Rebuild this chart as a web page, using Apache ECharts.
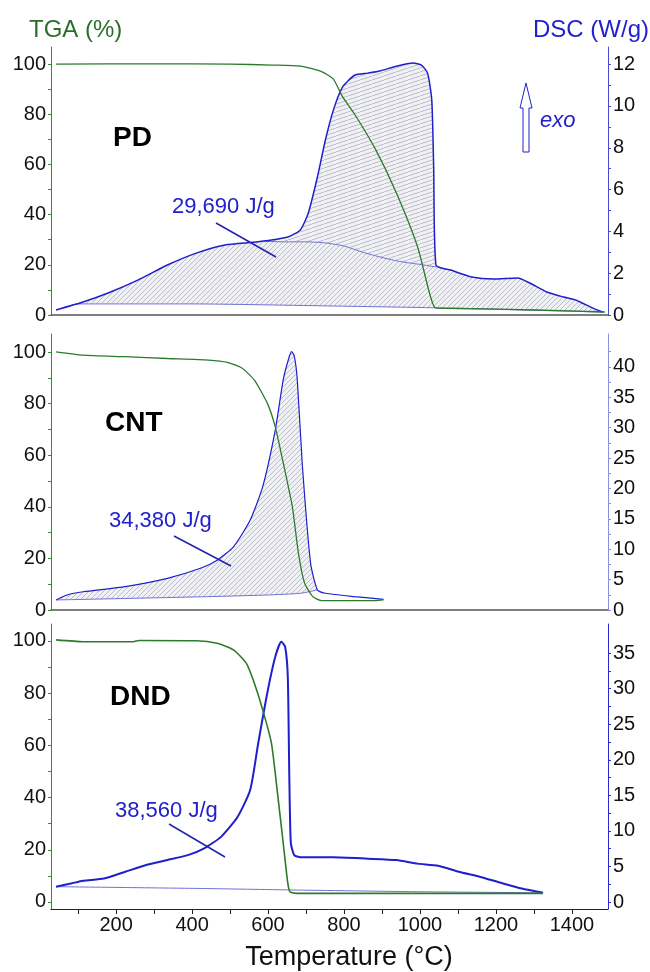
<!DOCTYPE html>
<html>
<head>
<meta charset="utf-8">
<script src="https://cdn.jsdelivr.net/npm/echarts@6/dist/echarts.min.js"></script>
<style>
  html, body { margin: 0; padding: 0; background: #fff; }
  #chart { width: 650px; height: 972px; }
</style>
</head>
<body>
<div id="chart"></div>
<script>
(function(){

// temperature axis (°C)
var tempMin = 28.6, tempMax = 1495;
var tempLabels = [200, 400, 600, 800, 1000, 1200, 1400];
var tempTicks = [100, 200, 300, 400, 500, 600, 700, 800, 900, 1000, 1100, 1200, 1300, 1400];

// TGA axis ticks
var tgaLabels = [0, 20, 40, 60, 80, 100];
var tgaTicks = [0, 10, 20, 30, 40, 50, 60, 70, 80, 90, 100];

// DSC axis ticks per panel
var pdDscLabels = [0, 2, 4, 6, 8, 10, 12];
var pdDscTicks = [0, 1, 2, 3, 4, 5, 6, 7, 8, 9, 10, 11, 12];
var cntDscLabels = [0, 5, 10, 15, 20, 25, 30, 35, 40];
var cntDscTicks = [0, 2.5, 5, 7.5, 10, 12.5, 15, 17.5, 20, 22.5, 25, 27.5, 30, 32.5, 35, 37.5, 40, 42.5];
var dndDscLabels = [0, 5, 10, 15, 20, 25, 30, 35];
var dndDscTicks = [0, 2.5, 5, 7.5, 10, 12.5, 15, 17.5, 20, 22.5, 25, 27.5, 30, 32.5, 35];

// PD
var pdTga = [[42,100],[300,100.1],[500,100],[609,99.6],[685,99.2],[741,97],[772,94],[796,87],
  [828,80],[883,66],[938,48.6],[994,27],[1025,8.8],[1041,2.8],[1100,2.6],[1300,2],[1487,1.2]];
var pdDsc = [[42,0.24],[113,0.62],[179,1.05],[257,1.67],[335,2.39],[411,2.96],[487,3.35],[574,3.5],
  [652,3.73],[685,4.07],[706,4.88],[730,6.6],[751,8.37],[772,9.8],[796,10.9],[828,11.47],[862,11.57],
  [894,11.67],[938,11.9],[982,12.05],[1004,11.95],[1020,11.57],[1031,10.3],[1036,7.1],[1042,2.39],
  [1081,2.15],[1136,1.82],[1192,1.72],[1257,1.77],[1289,1.53],[1334,1.1],[1378,0.86],[1410,0.72],
  [1455,0.33],[1481,0.14]];
var pdHump = [[590,3.52],[650,3.5],[700,3.5],[750,3.45],[800,3.3],[850,3.0],[900,2.75],[950,2.55],
  [1000,2.42],[1042,2.3]];
var pdBase = [[42,0.24],[100,0.53],[400,0.53],[772,0.43],[1080,0.33],[1481,0.14]];

// CNT
var cntTga = [[42,100.1],[113,98.8],[224,98.2],[335,97.5],[443,96.9],[493,96],[532,93.7],[564,89.1],
  [598,80.2],[619,71],[640,57],[664,40],[680,22],[696,10.5],[718,5.2],[741,3.6],[883,3.6],[904,3.9]];
var cntDsc = [[42,1.65],[71,2.47],[113,3.0],[224,3.84],[335,5.2],[422,6.86],[466,8.2],[509,10.4],
  [553,14.8],[586,20.3],[619,29.6],[640,37.9],[655,41.5],[662,42.5],[669,41.8],[677,37.9],[690,24.1],
  [712,7.7],[730,3.3],[751,2.75],[828,2.2],[904,1.76]];
var cntBase = [[42,1.65],[443,2.2],[598,2.47],[685,2.75],[730,3.3]];

// DND
var dndTga = [[42,100.4],[113,99.7],[245,99.7],[260,100.2],[411,100.1],[466,99.1],[509,96.6],[543,91.4],
  [564,83.8],[586,73.6],[609,60.8],[625,41.6],[640,22.5],[652,7.2],[658,3.9],[685,3.3],[994,3.3],[1324,3.3]];
var dndDsc = [[42,2.16],[81,2.6],[113,3.0],[168,3.3],[224,4.26],[279,5.2],[335,5.9],[389,6.6],[432,7.55],
  [477,9.2],[520,12.0],[553,15.75],[574,22.3],[598,29.4],[619,34.5],[635,36.6],[645,35.9],[652,31.7],
  [656,17.6],[660,8.3],[669,6.6],[685,6.3],[772,6.3],[862,6.1],[938,5.9],[994,5.4],[1048,5.1],
  [1102,4.26],[1157,3.56],[1213,2.7],[1268,1.9],[1324,1.3]];
var dndBase = [[42,2.16],[432,1.9],[660,1.7],[994,1.45],[1324,1.3]];

var green = '#2c7a2c', blue = '#1f1fcc', thinBlue = '#7070d8';
var font = 'Liberation Sans, Arial, sans-serif';
var SMOOTH = 0.2;

// hatch pattern tile: one diagonal stroke on a pale grey ground
function hatch(w, h) {
  var c = document.createElement('canvas');
  c.width = w; c.height = h;
  var g = c.getContext('2d');
  g.fillStyle = '#f1f1f3';
  g.fillRect(0, 0, w, h);
  g.strokeStyle = 'rgba(125,125,165,0.45)';
  g.lineWidth = 1;
  g.beginPath();
  g.moveTo(-1, h + h / w); g.lineTo(w + 1, -h / w);
  g.stroke();
  return { image: c, repeat: 'repeat' };
}
var steepHatch = hatch(5, 5);
var flatHatch = hatch(12, 4);

function fillBetween(top, bottom, xi, yi, pattern) {
  return {
    type: 'custom', xAxisIndex: xi, yAxisIndex: yi, z: 1, silent: true,
    data: [top[0]],
    renderItem: function (params, api) {
      var pts = top.map(function (p) { return api.coord(p); })
        .concat(bottom.slice().reverse().map(function (p) { return api.coord(p); }));
      return { type: 'polygon', shape: { points: pts, smooth: SMOOTH }, style: { fill: pattern, stroke: null } };
    }
  };
}

function line(data, xi, yi, color, width) {
  return { type: 'line', xAxisIndex: xi, yAxisIndex: yi, data: data, showSymbol: false,
    smooth: SMOOTH,
    z: 3, silent: true, lineStyle: { color: color, width: width } };
}

function plain(v) { return String(v); }

function xAxis(gi, last) {
  return {
    type: 'value', gridIndex: gi, min: tempMin, max: tempMax, z: 5,
    axisLine: { show: true, onZero: false, lineStyle: { color: last ? '#222' : '#555', width: last ? 1 : 1.5 } },
    axisTick: { show: last, customValues: tempTicks, length: 5, lineStyle: { color: '#222' } },
    axisLabel: { show: last, customValues: tempLabels, formatter: plain, fontSize: 20, color: '#111',
      fontFamily: font, margin: 6 },
    splitLine: { show: false }
  };
}

function leftAxis(gi, min, max) {
  return {
    type: 'value', gridIndex: gi, min: min, max: max, position: 'left', z: 5,
    axisLine: { show: true, onZero: false, lineStyle: { color: '#3a8a3a' } },
    axisTick: { show: true, customValues: tgaTicks, length: 3, lineStyle: { color: '#3a8a3a' } },
    axisLabel: { customValues: tgaLabels, formatter: plain, fontSize: 20, color: '#111', fontFamily: font, margin: 5 },
    splitLine: { show: false }
  };
}

function rightAxis(gi, min, max, labels, ticks, color) {
  return {
    type: 'value', gridIndex: gi, min: min, max: max, position: 'right', z: 5,
    axisLine: { show: true, onZero: false, lineStyle: { color: color } },
    axisTick: { show: true, customValues: ticks, length: 3, lineStyle: { color: color } },
    axisLabel: { customValues: labels, formatter: plain, fontSize: 20, color: '#111', fontFamily: font, margin: 5 },
    splitLine: { show: false }
  };
}

// split PD fill: peak above the hump line, and the broad part under it
var pdPeak = pdDsc.filter(function (p) { return p[0] >= 590 && p[0] <= 1042; });
var pdLower = pdDsc.filter(function (p) { return p[0] < 590; })
  .concat(pdHump)
  .concat(pdDsc.filter(function (p) { return p[0] > 1042; }));

function txt(x, y, s, size, color, extra) {
  var st = { text: s, x: x, y: y, fontSize: size, fill: color, fontFamily: font, textVerticalAlign: 'middle' };
  for (var k in extra) st[k] = extra[k];
  return { type: 'text', style: st, z: 20 };
}
function seg(x1, y1, x2, y2) {
  return { type: 'line', shape: { x1: x1, y1: y1, x2: x2, y2: y2 }, style: { stroke: '#2222b0', lineWidth: 1.5 }, z: 20 };
}

var option = {
  animation: false,
  backgroundColor: '#fff',
  grid: [
    { left: 51, right: 42, top: 47, height: 268 },
    { left: 51, right: 42, top: 334, height: 276 },
    { left: 51, right: 42, top: 624, height: 285 }
  ],
  xAxis: [xAxis(0, false), xAxis(1, false), xAxis(2, true)],
  yAxis: [
    leftAxis(0, 0, 106.8),
    rightAxis(0, 0, 12.82, pdDscLabels, pdDscTicks, '#4848d0'),
    leftAxis(1, 0, 107),
    rightAxis(1, 0, 45.4, cntDscLabels, cntDscTicks, '#8c8ce0'),
    leftAxis(2, -2.7, 106.5),
    rightAxis(2, -0.98, 39.1, dndDscLabels, dndDscTicks, '#2a2ad0')
  ],
  series: [
    fillBetween(pdPeak, pdHump, 0, 1, flatHatch),
    fillBetween(pdLower, pdBase, 0, 1, steepHatch),
    line(pdBase, 0, 1, thinBlue, 1),
    line(pdHump, 0, 1, thinBlue, 1),
    line(pdDsc, 0, 1, blue, 1.5),
    line(pdTga, 0, 0, green, 1.3),

    fillBetween(cntDsc.filter(function (p) { return p[0] <= 730; }), cntBase, 1, 3, steepHatch),
    line(cntBase, 1, 3, thinBlue, 1),
    line(cntDsc, 1, 3, blue, 1.2),
    line(cntTga, 1, 2, green, 1.3),

    line(dndBase, 2, 5, thinBlue, 1),
    line(dndDsc, 2, 5, blue, 2),
    line(dndTga, 2, 4, green, 1.6)
  ],
  graphic: [
    txt(29, 30, 'TGA (%)', 24, '#2b6e2b'),
    txt(649, 30, 'DSC (W/g)', 24, '#2222cc', { textAlign: 'right' }),
    txt(113, 138, 'PD', 28, '#000', { fontWeight: 'bold' }),
    txt(172, 207, '29,690 J/g', 22, '#2020cc'),
    seg(216, 223, 276, 257),
    txt(540, 121, 'exo', 22, '#2020cc', { fontStyle: 'italic' }),
    { type: 'polygon', z: 20,
      shape: { points: [[526, 83], [532, 108], [529, 108], [529, 152], [523, 152], [523, 108], [520, 108]] },
      style: { fill: '#fff', stroke: '#2020cc', lineWidth: 1 } },
    txt(105, 423, 'CNT', 28, '#000', { fontWeight: 'bold' }),
    txt(109, 521, '34,380 J/g', 22, '#2020cc'),
    seg(174, 536, 231, 566),
    txt(110, 697, 'DND', 28, '#000', { fontWeight: 'bold' }),
    txt(115, 811, '38,560 J/g', 22, '#2020cc'),
    seg(169, 824, 225, 857),
    txt(349, 958, 'Temperature (°C)', 27, '#111', { textAlign: 'center' })
  ]
};

var myChart = echarts.init(document.getElementById('chart'));
myChart.setOption(option);

})();
</script>
</body>
</html>
